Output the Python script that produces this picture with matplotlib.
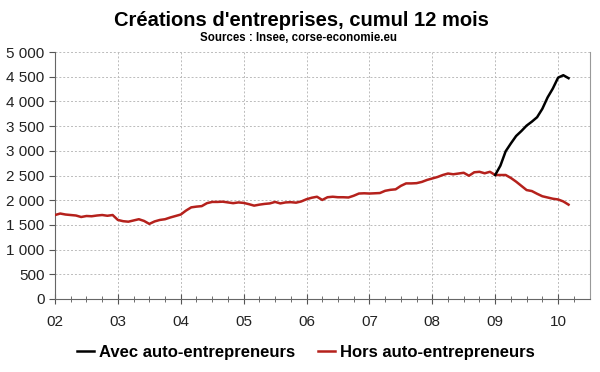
import matplotlib
matplotlib.use("Agg")
import matplotlib.pyplot as plt
import matplotlib.ticker as mticker
import numpy as np

plt.rcParams['font.family'] = ['Liberation Sans', 'DejaVu Sans']

# Monthly series, Jan 2002 .. Mar 2010
start_year = 2002
hors = [
    1700, 1730, 1710, 1700, 1690, 1660, 1680, 1675, 1690, 1700, 1685, 1700,  # 2002
    1600, 1575, 1565, 1590, 1615, 1580, 1520, 1570, 1600, 1615, 1650, 1680,  # 2003
    1710, 1790, 1855, 1870, 1880, 1940, 1965, 1965, 1970, 1955, 1940, 1955,  # 2004
    1945, 1920, 1890, 1910, 1925, 1935, 1965, 1935, 1955, 1960, 1950, 1975,  # 2005
    2020, 2050, 2070, 2005, 2060, 2070, 2060, 2060, 2055, 2090, 2135, 2140,  # 2006
    2135, 2140, 2145, 2190, 2210, 2220, 2290, 2340, 2340, 2345, 2370, 2410,  # 2007
    2440, 2470, 2510, 2540, 2525, 2540, 2555, 2495, 2565, 2575, 2545, 2575,  # 2008
    2510, 2510, 2510, 2450, 2375, 2290, 2205, 2185, 2130, 2080, 2055, 2030,  # 2009
    2015, 1975, 1910,                                                        # 2010
]
avec_start_index = 84  # Jan 2009
avec = [
    2510, 2700, 2990, 3150, 3300, 3400, 3510, 3590, 3680, 3850, 4080, 4260,  # 2009
    4480, 4530, 4470,                                                        # 2010
]
year_labels = ["02", "03", "04", "05", "06", "07", "08", "09", "10"]
title = "Créations d'entreprises, cumul 12 mois"
subtitle = "Sources : Insee, corse-economie.eu"
legend_labels = ["Avec auto-entrepreneurs", "Hors auto-entrepreneurs"]

x_hors = start_year + np.arange(len(hors)) / 12.0
x_avec = start_year + (avec_start_index + np.arange(len(avec))) / 12.0

fig = plt.figure(figsize=(6.0, 3.72), dpi=100)
ax = fig.add_axes([55 / 600, 1 - 299 / 372, (590 - 55) / 600, (299 - 52) / 372])

red = "#B5211C"
l1, = ax.plot(x_avec, avec, color="black", lw=1.8, zorder=4)
l2, = ax.plot(x_hors, hors, color=red, lw=1.8, zorder=3)

ax.set_xlim(2002, 2010 + 32 / 63)
ax.set_ylim(0, 5000)
ax.set_yticks(np.arange(0, 5001, 500))
ax.yaxis.set_major_formatter(mticker.FuncFormatter(lambda v, p: f"{int(v):,}".replace(",", " ")))
ax.set_xticks(np.arange(2002, 2011))
ax.set_xticklabels(year_labels)
ax.set_xticks(np.arange(2002, 2010.5, 0.25), minor=True)

ax.grid(True, which="major", color="#BBBBBB", linestyle=(0, (2, 2)), lw=0.7)
ax.tick_params(axis="x", which="major", direction="inout", length=7, labelsize=11, pad=8, color="#555555", labelcolor="#222222")
ax.tick_params(axis="x", which="minor", direction="inout", length=4, color="#555555")
ax.tick_params(axis="y", which="major", direction="out", length=4, labelsize=11, color="#555555", labelcolor="#222222")
for s in ["left", "bottom"]:
    ax.spines[s].set_color("#666666")
ax.spines["right"].set_color("#999999")
ax.spines["top"].set_visible(False)

fig.text(0.503, 1 - 20 / 372, title, ha="center", va="center", fontsize=14.5, fontweight="bold")
fig.text(0.497, 1 - 38 / 372, subtitle, ha="center", va="center", fontsize=8.3, fontweight="bold")

fig.legend([l1, l2], legend_labels, loc="center", bbox_to_anchor=(0.51, 1 - 352 / 372),
           ncol=2, frameon=False, prop={"weight": "bold", "size": 12},
           handlelength=1.0, handletextpad=0.3, columnspacing=1.4)

fig.savefig("out.png", dpi=100)
